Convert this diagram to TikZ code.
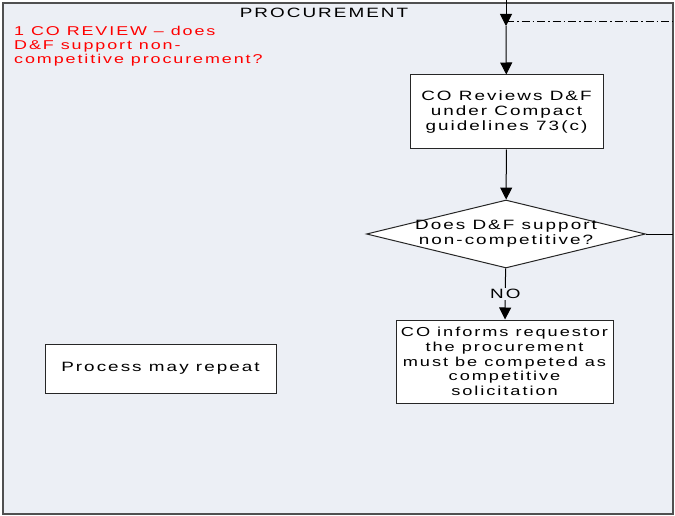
\documentclass[tikz,border=0pt]{standalone}
\usepackage{fontspec}
\setmainfont{Liberation Sans}
\newfontfamily\visiofont[FakeStretch=1.4,LetterSpace=15]{Liberation Sans}
\usetikzlibrary{shapes.geometric, arrows.meta}
\definecolor{lanebg}{HTML}{ECEFF5}
\definecolor{lineclr}{HTML}{505050}
\tikzset{
    lane/.style={draw=lineclr, fill=lanebg, line width=1.2pt},
    procbox/.style={draw=black!85, line width=1pt, fill=white, align=center, inner sep=0pt, font=\visiofont\fontsize{13.5}{15}\selectfont},
    decision/.style={diamond, draw=black!85, line width=1pt, fill=white, aspect=4.1, inner xsep=-10pt, inner ysep=-2pt, minimum width=279pt, minimum height=68pt, align=center, font=\visiofont\fontsize{13.5}{15}\selectfont},
    flow/.style={draw=black, line width=1pt, -{Triangle[width=12pt,length=12pt]}}
}
\begin{document}
\begin{tikzpicture}[x=1pt, y=-1pt]
    \useasboundingbox (0,0) rectangle (675,516);
    \draw[lane] (3,3) rectangle (673,514);
    \node[font=\visiofont\fontsize{13.5}{14}\selectfont] (title) at (324,13) {PROCUREMENT};
    \node[anchor=north west, inner sep=0pt, align=left, text=red, font=\visiofont\fontsize{12.8}{13.6}\selectfont] (note) at (14,26.5) {1 CO REVIEW \textendash{} does\\D\&F support non-\\competitive procurement?};
    % flow
    \coordinate (top) at (506,0);
    \coordinate (join) at (506,26);
    \coordinate (laneR) at (673,21);
    \coordinate (exitR) at (673,234);
    \node[procbox, minimum width=193pt, minimum height=74pt] (rev) at (506.5,112) {CO Reviews D\&F\\under Compact\\guidelines 73(c)};
    \node[decision] (dec) at (506,234) {Does D\&F support\\non-competitive?};
    \node[procbox, minimum width=217pt, minimum height=83pt, font=\visiofont\fontsize{13}{14.6}\selectfont] (inform) at (504.5,361.5) {CO informs requestor\\the procurement\\must be competed as\\competitive\\solicitation};
    \node[procbox, minimum width=231pt, minimum height=49pt] (repeat) at (160.5,368.5) {Process may repeat};
    \draw[flow] (top) -- (join);
    \draw[line width=0.8pt, dash pattern=on 8pt off 3pt on 1.5pt off 3pt] (506,21) -- (laneR);
    \draw[flow] (join) -- (rev);
    \draw[flow] (rev) -- (dec);
    \draw[line width=1pt] (dec.east) -- (exitR);
    \draw[flow] (dec) -- node[fill=lanebg, inner sep=1pt, font=\visiofont\fontsize{13.5}{14}\selectfont] {NO} (inform);
\end{tikzpicture}
\end{document}
